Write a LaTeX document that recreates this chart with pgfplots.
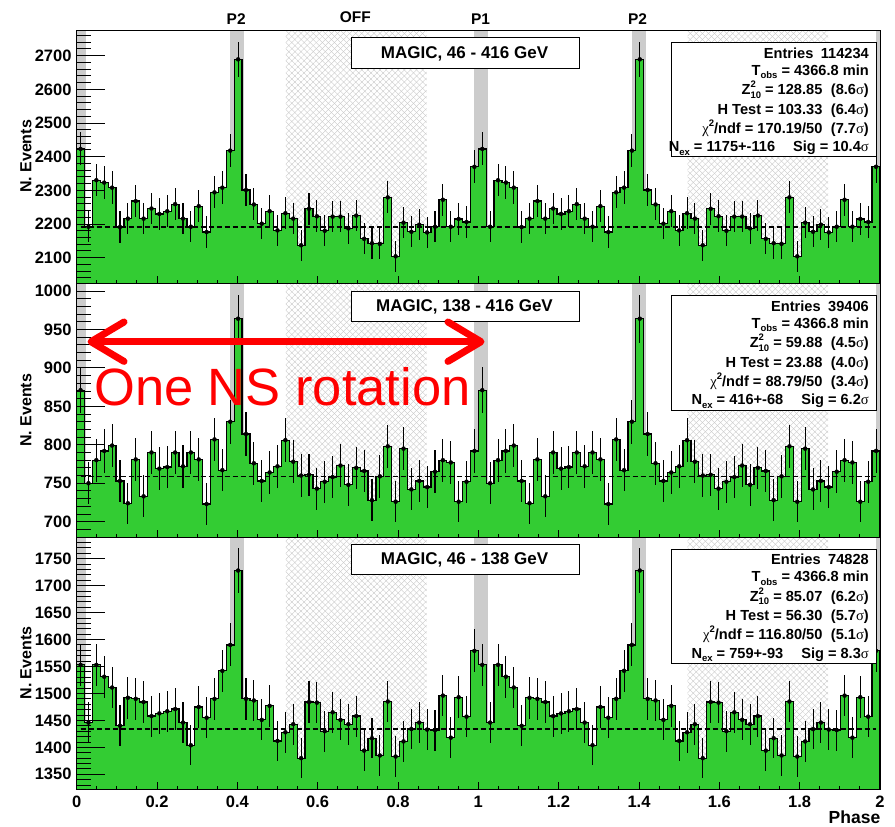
\documentclass[border=0pt]{standalone}
\usepackage{pgfplots}
\pgfplotsset{compat=1.18}
\usepackage{pgfplotstable}
\usepackage{fontspec}
\setmainfont{Liberation Sans}
\newfontfamily\symfont{Liberation Serif}
\usetikzlibrary{patterns.meta}
\definecolor{histgreen}{RGB}{51,204,51}
\definecolor{bandgrey}{RGB}{204,204,204}
\definecolor{hatchgrey}{RGB}{198,198,198}

% k = bin index (bin width 1/51 in phase); a = 46-416 GeV, b = 138-416 GeV, c = 46-138 GeV
\pgfplotstableread{
k a b c
0 2423 871 1553
1 2192 750 1446
2 2330 780 1553
3 2323 792 1531
4 2308 799 1511
5 2191 753 1440
6 2216 724 1492
7 2268 781 1490
8 2216 733 1484
9 2246 790 1458
10 2230 769 1463
11 2238 771 1467
12 2259 790 1471
13 2216 772 1446
14 2192 790 1404
15 2253 781 1475
16 2176 723 1455
17 2294 807 1490
18 2308 767 1542
19 2418 830 1590
20 2689 964 1728
21 2301 814 1490
22 2258 776 1487
23 2201 753 1451
24 2238 764 1477
25 2181 772 1412
26 2232 806 1428
27 2216 778 1443
28 2137 760 1380
29 2245 761 1484
30 2223 743 1483
31 2180 752 1430
32 2222 758 1465
33 2222 773 1451
34 2187 748 1443
35 2225 770 1458
36 2156 766 1394
37 2143 728 1417
38 2141 759 1385
39 2279 798 1485
40 2104 726 1383
41 2204 795 1411
42 2177 742 1434
43 2198 753 1446
44 2175 745 1433
45 2192 765 1432
46 2272 780 1496
47 2192 777 1418
48 2215 726 1493
49 2206 752 1457
50 2370 792 1579
51 2423 871 1553
52 2192 750 1446
53 2330 780 1553
54 2323 792 1531
55 2308 799 1511
56 2191 753 1440
57 2216 724 1492
58 2268 781 1490
59 2216 733 1484
60 2246 790 1458
61 2230 769 1463
62 2238 771 1467
63 2259 790 1471
64 2216 772 1446
65 2192 790 1404
66 2253 781 1475
67 2176 723 1455
68 2294 807 1490
69 2308 767 1542
70 2418 830 1590
71 2689 964 1728
72 2301 814 1490
73 2258 776 1487
74 2201 753 1451
75 2238 764 1477
76 2181 772 1412
77 2232 806 1428
78 2216 778 1443
79 2137 760 1380
80 2245 761 1484
81 2223 743 1483
82 2180 752 1430
83 2222 758 1465
84 2222 773 1451
85 2187 748 1443
86 2225 770 1458
87 2156 766 1394
88 2143 728 1417
89 2141 759 1385
90 2279 798 1485
91 2104 726 1383
92 2204 795 1411
93 2177 742 1434
94 2198 753 1446
95 2175 745 1433
96 2192 765 1432
97 2272 780 1496
98 2192 777 1418
99 2215 726 1493
100 2206 752 1457
101 2370 792 1579
102 2370 792 1579
}\hist

\newcommand{\sig}{{\symfont\mdseries σ}}
\newcommand{\smallfs}{\fontsize{9.5}{10}\selectfont}
\newcommand{\lowsub}[1]{\raisebox{-0.45ex}{\smallfs #1}}
\newcommand{\chisq}{{\symfont\mdseries χ}\raisebox{0.85ex}{\smallfs 2}}
\newcommand{\Zten}{Z\rlap{\raisebox{0.9ex}{\smallfs 2}}\lowsub{10}}
\newcommand{\statfont}{\fontsize{14.6}{16}\selectfont\bfseries}
\newcommand{\sline}[2]{\node[anchor=base east, inner sep=0pt, font=\statfont] at (869pt,-#1pt) {#2};}

\newcommand{\bands}[2]{%
  \fill[bandgrey] (axis cs:0,#1) rectangle (axis cs:0.0235,#2);
  \fill[bandgrey] (axis cs:0.382,#1) rectangle (axis cs:0.417,#2);
  \fill[bandgrey] (axis cs:0.9895,#1) rectangle (axis cs:1.0235,#2);
  \fill[bandgrey] (axis cs:1.382,#1) rectangle (axis cs:1.417,#2);
  \fill[bandgrey] (axis cs:1.9895,#1) rectangle (axis cs:2,#2);
  \fill[pattern={Lines[angle=45,distance=4.3pt,line width=0.35pt]},pattern color=hatchgrey] (axis cs:0.521,#1) rectangle (axis cs:0.871,#2);
  \fill[pattern={Lines[angle=-45,distance=4.3pt,line width=0.35pt]},pattern color=hatchgrey] (axis cs:0.521,#1) rectangle (axis cs:0.871,#2);
  \fill[pattern={Lines[angle=45,distance=4.3pt,line width=0.35pt]},pattern color=hatchgrey] (axis cs:1.521,#1) rectangle (axis cs:1.871,#2);
  \fill[pattern={Lines[angle=-45,distance=4.3pt,line width=0.35pt]},pattern color=hatchgrey] (axis cs:1.521,#1) rectangle (axis cs:1.871,#2);
}

\pgfplotsset{panel/.style={
  scale only axis, width=803.33pt,
  xmin=0, xmax=2,
  axis on top,
  axis line style={line width=0.9pt},
  xtick={0,0.2,0.4,0.6,0.8,1,1.2,1.4,1.6,1.8,2},
  minor xtick={0.05,0.1,...,1.95},
  xtick pos=left, ytick pos=left,
  tick align=inside,
  xtick style={black, line width=0.9pt, /pgfplots/major tick length=7pt, /pgfplots/minor tick length=3.5pt},
  ytick style={black, line width=0.9pt, /pgfplots/major tick length=28pt, /pgfplots/minor tick length=14pt},
  scaled y ticks=false,
  ticklabel style={font=\fontsize{16.5}{18}\selectfont\bfseries},
  /pgf/number format/assume math mode=true,
  /pgf/number format/1000 sep={},
  yticklabel style={inner sep=0pt, xshift=-5pt},
  xticklabel style={inner sep=0pt, yshift=-6.5pt},
}}

\begin{document}
\begin{tikzpicture}
\useasboundingbox (0pt,0pt) rectangle (895pt,-827pt);

% ---------- top panel ----------
\begin{axis}[panel, at={(76.67pt,-30pt)}, anchor=north west, height=253.3pt,
  ymin=2023.9, ymax=2776.2, ytick={2100,2200,...,2700}, minor ytick={2040,2060,...,2760},
  xticklabels={}]
\bands{2023.9}{2776.2}
\addplot[const plot, fill=histgreen, draw=black, line width=1.25pt] table[x expr=\thisrow{k}/51, y=a] {\hist} \closedcycle;
\addplot[only marks, mark=none, skip coords between index={102}{103},
  error bars/.cd, y dir=both, y explicit, error mark=none, error bar style={black, line width=1.05pt}]
  table[x expr=\thisrow{k}/51+1/102, y=a, y error expr=sqrt(\thisrow{a})] {\hist};
\addplot[black, line width=1.4pt, dash pattern=on 5pt off 3pt] coordinates {(0.0098,2191) (1.9902,2191)};
\end{axis}

% ---------- middle panel ----------
\begin{axis}[panel, at={(76.67pt,-283.3pt)}, anchor=north west, height=254pt,
  ymin=679.7, ymax=1010, ytick={700,750,...,1000}, minor ytick={680,690,...,1010},
  xticklabels={}]
\bands{679.7}{1010}
\addplot[const plot, fill=histgreen, draw=black, line width=1.25pt] table[x expr=\thisrow{k}/51, y=b] {\hist} \closedcycle;
\addplot[only marks, mark=none, skip coords between index={102}{103},
  error bars/.cd, y dir=both, y explicit, error mark=none, error bar style={black, line width=1.05pt}]
  table[x expr=\thisrow{k}/51+1/102, y=b, y error expr=sqrt(\thisrow{b})] {\hist};
\addplot[black, line width=1.4pt, dash pattern=on 5pt off 3pt] coordinates {(0.0098,759) (1.9902,759)};
\end{axis}

% ---------- bottom panel ----------
\begin{axis}[panel, at={(76.67pt,-537.3pt)}, anchor=north west, height=252pt,
  ymin=1322.2, ymax=1789.6, ytick={1350,1400,...,1750}, minor ytick={1330,1340,...,1780}]
\bands{1322.2}{1789.6}
\addplot[const plot, fill=histgreen, draw=black, line width=1.25pt] table[x expr=\thisrow{k}/51, y=c] {\hist} \closedcycle;
\addplot[only marks, mark=none, skip coords between index={102}{103},
  error bars/.cd, y dir=both, y explicit, error mark=none, error bar style={black, line width=1.05pt}]
  table[x expr=\thisrow{k}/51+1/102, y=c, y error expr=sqrt(\thisrow{c})] {\hist};
\addplot[black, line width=1.4pt, dash pattern=on 5pt off 3pt] coordinates {(0.0098,1434) (1.9902,1434)};
\end{axis}

% ---------- labels ----------
\foreach \yc in {156.5,410.3,663}{
  \node[rotate=90, inner sep=0pt, font=\fontsize{16}{18}\selectfont\bfseries] at (26pt,-\yc pt) {N. Events};
}
\node[anchor=base east, inner sep=0pt, font=\fontsize{17.5}{19}\selectfont\bfseries] at (880.5pt,-823pt) {Phase};

\node[anchor=base, inner sep=0pt, font=\fontsize{15.5}{17}\selectfont\bfseries] at (236.2pt,-24pt) {P2};
\node[anchor=base, inner sep=0pt, font=\fontsize{15.5}{17}\selectfont\bfseries] at (355.3pt,-22.7pt) {OFF};
\node[anchor=base, inner sep=0pt, font=\fontsize{15.5}{17}\selectfont\bfseries] at (480.5pt,-24pt) {P1};
\node[anchor=base, inner sep=0pt, font=\fontsize{15.5}{17}\selectfont\bfseries] at (637.5pt,-24pt) {P2};

% MAGIC boxes
\draw[fill=white, line width=0.8pt] (351pt,-37pt) rectangle (579pt,-68pt);
\node[anchor=base, inner sep=0pt, font=\fontsize{17}{19}\selectfont\bfseries] at (464.5pt,-58.3pt) {MAGIC, 46 - 416 GeV};
\draw[fill=white, line width=0.8pt] (351pt,-291pt) rectangle (579pt,-321pt);
\node[anchor=base, inner sep=0pt, font=\fontsize{17}{19}\selectfont\bfseries] at (464.5pt,-311pt) {MAGIC, 138 - 416 GeV};
\draw[fill=white, line width=0.8pt] (351pt,-544pt) rectangle (579pt,-574pt);
\node[anchor=base, inner sep=0pt, font=\fontsize{17}{19}\selectfont\bfseries] at (464.5pt,-564pt) {MAGIC, 46 - 138 GeV};

% stats boxes
\draw[fill=white, line width=0.8pt] (671.3pt,-42.7pt) rectangle (876.7pt,-156pt);
\sline{58.3}{Entries\hspace{7.5pt}114234}
\sline{75.5}{T\lowsub{obs} = 4366.8 min}
\sline{94.8}{\Zten{} = 128.85\hspace{8.5pt}(8.6\sig)}
\sline{114}{H Test = 103.33\hspace{8.5pt}(6.4\sig)}
\sline{133.2}{\chisq/ndf = 170.19/50\hspace{8.5pt}(7.7\sig)}
\sline{151.7}{N\lowsub{ex} = 1175+-116\hspace{18pt}Sig = 10.4\sig}

\draw[fill=white, line width=0.8pt] (671.3pt,-295.7pt) rectangle (876.7pt,-410pt);
\sline{311.3}{Entries\hspace{7.5pt}39406}
\sline{328.5}{T\lowsub{obs} = 4366.8 min}
\sline{347.8}{\Zten{} = 59.88\hspace{8.5pt}(4.5\sig)}
\sline{367}{H Test = 23.88\hspace{8.5pt}(4.0\sig)}
\sline{386.2}{\chisq/ndf = 88.79/50\hspace{8.5pt}(3.4\sig)}
\sline{404.7}{N\lowsub{ex} = 416+-68\hspace{18pt}Sig = 6.2\sig}

\draw[fill=white, line width=0.8pt] (671.3pt,-549pt) rectangle (876.7pt,-663pt);
\sline{564.6}{Entries\hspace{7.5pt}74828}
\sline{581.8}{T\lowsub{obs} = 4366.8 min}
\sline{601.1}{\Zten{} = 85.07\hspace{8.5pt}(6.2\sig)}
\sline{620.3}{H Test = 56.30\hspace{8.5pt}(5.7\sig)}
\sline{639.5}{\chisq/ndf = 116.80/50\hspace{8.5pt}(5.1\sig)}
\sline{658}{N\lowsub{ex} = 759+-93\hspace{18pt}Sig = 8.3\sig}

% red annotation
\draw[red, line width=6.5pt, line cap=round] (92pt,-341.7pt) -- (480pt,-341.7pt);
\draw[red, line width=7pt, line cap=round, line join=round] (124pt,-322pt) -- (91pt,-341.7pt) -- (124pt,-361.4pt);
\draw[red, line width=7pt, line cap=round, line join=round] (448pt,-322pt) -- (481pt,-341.7pt) -- (448pt,-361.4pt);
\node[anchor=base west, inner sep=0pt, text=red, font=\fontsize{52.5}{56}\selectfont] at (94pt,-405.5pt) {One NS rotation};
\end{tikzpicture}
\end{document}
